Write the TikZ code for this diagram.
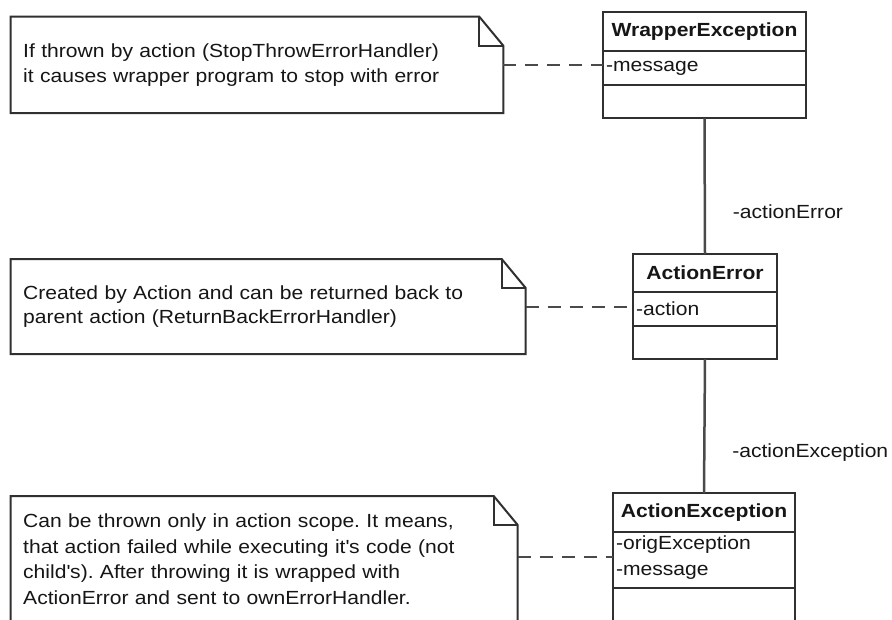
\documentclass[tikz,border=0pt]{standalone}
\usepackage{fontspec}
\setmainfont[FakeStretch=1.11]{Liberation Sans}
\usetikzlibrary{calc}
\definecolor{inkline}{HTML}{303030}
\definecolor{connline}{HTML}{4A4A4A}
\definecolor{txt}{HTML}{161616}

% outline of a UML note with a folded top-right corner
\newcommand\drawnote[1]{%
  \draw[noteline] (#1.north west) -- ([xshift=-24pt]#1.north east)
    -- ([yshift=-29pt]#1.north east) -- (#1.south east) -- (#1.south west) -- cycle;
  \draw[noteline] ([xshift=-24pt]#1.north east) -- ([xshift=-24pt,yshift=-29pt]#1.north east)
    -- ([yshift=-29pt]#1.north east);
}

\begin{document}
\frenchspacing
\begin{tikzpicture}[x=1pt,y=-1pt,
  every node/.style={inner sep=0pt, outer sep=0pt, text=txt,
    font=\fontsize{19}{24.5}\selectfont},
  notebox/.style={anchor=north west, align=left, inner xsep=12.5pt},
  noteline/.style={draw=inkline, line width=2pt, line join=miter},
  classbox/.style={anchor=north west, draw=inkline, line width=2pt},
  boxline/.style={draw=inkline, line width=2pt},
  classtitle/.style={font=\fontsize{19}{24.5}\selectfont\bfseries},
  attr/.style={anchor=west, align=left, font=\fontsize{19}{26}\selectfont},
  assoc/.style={draw=connline, line width=2.5pt},
  noteconn/.style={draw=connline, line width=2.8pt, dash pattern=on 13pt off 9pt},
  rolelabel/.style={anchor=west}
]
\clip (0,0) rectangle (892,619);
\fill[white] (0,0) rectangle (892,619);

% ---- notes ----
\node[notebox, text width=467.6pt, minimum height=96.3pt] (n1) at (10.7,16.7)
  {If thrown by action (StopThrowErrorHandler)\\it causes wrapper program to stop with error};
\node[notebox, text width=490pt, minimum height=95pt] (n2) at (10.7,259)
  {Created by Action and can be returned back to\\parent action (ReturnBackErrorHandler)};
\node[notebox, text width=482pt, minimum height=126pt, font=\fontsize{19}{25.5}\selectfont] (n3) at (10.7,496)
  {Can be thrown only in action scope. It means,\\that action failed while executing it\textquotesingle s code (not\\child\textquotesingle s). After throwing it is wrapped with\\ActionError and sent to ownErrorHandler.};
\drawnote{n1}
\drawnote{n2}
\drawnote{n3}

% ---- classes ----
\node[classbox, minimum width=203pt, minimum height=106pt] (wrap) at (603,12) {};
\draw[boxline] ([yshift=-39pt]wrap.north west) -- ([yshift=-39pt]wrap.north east);
\draw[boxline] ([yshift=-73pt]wrap.north west) -- ([yshift=-73pt]wrap.north east);
\node[classtitle] (wrapname) at ($(wrap.north)+(0,19.5)$) {WrapperException};
\node[attr] (wrapattr) at ($(wrap.north west)+(3,56)$) {-message};

\node[classbox, minimum width=144pt, minimum height=105pt] (aerr) at (633,254) {};
\draw[boxline] ([yshift=-38pt]aerr.north west) -- ([yshift=-38pt]aerr.north east);
\draw[boxline] ([yshift=-72pt]aerr.north west) -- ([yshift=-72pt]aerr.north east);
\node[classtitle] (aerrname) at ($(aerr.north)+(0,19)$) {ActionError};
\node[attr] (aerrattr) at ($(aerr.north west)+(3,55)$) {-action};

\node[classbox, minimum width=182pt, minimum height=160pt] (aexc) at (613,493) {};
\draw[boxline] ([yshift=-39pt]aexc.north west) -- ([yshift=-39pt]aexc.north east);
\draw[boxline] ([yshift=-95pt]aexc.north west) -- ([yshift=-95pt]aexc.north east);
\node[classtitle] (aexcname) at ($(aexc.north)+(0,19.5)$) {ActionException};
\node[attr] (aexcattr) at ($(aexc.north west)+(3,65)$) {-origException\\-message};

% ---- associations ----
\draw[assoc] (wrap.south) -- (aerr.north)
  node[rolelabel, pos=0.69, xshift=28pt] {-actionError};
\draw[assoc] (aerr.south) -- (aexc.north)
  node[rolelabel, pos=0.70, xshift=28pt] {-actionException};

% ---- note anchors ----
\coordinate (d1) at (0,65);
\coordinate (d2) at (0,307);
\coordinate (d3) at (0,557);
\draw[noteconn] (n1.east |- d1) -- (wrap.west |- d1);
\draw[noteconn] (n2.east |- d2) -- (aerr.west |- d2);
\draw[noteconn] (n3.east |- d3) -- (aexc.west |- d3);
\end{tikzpicture}
\end{document}
